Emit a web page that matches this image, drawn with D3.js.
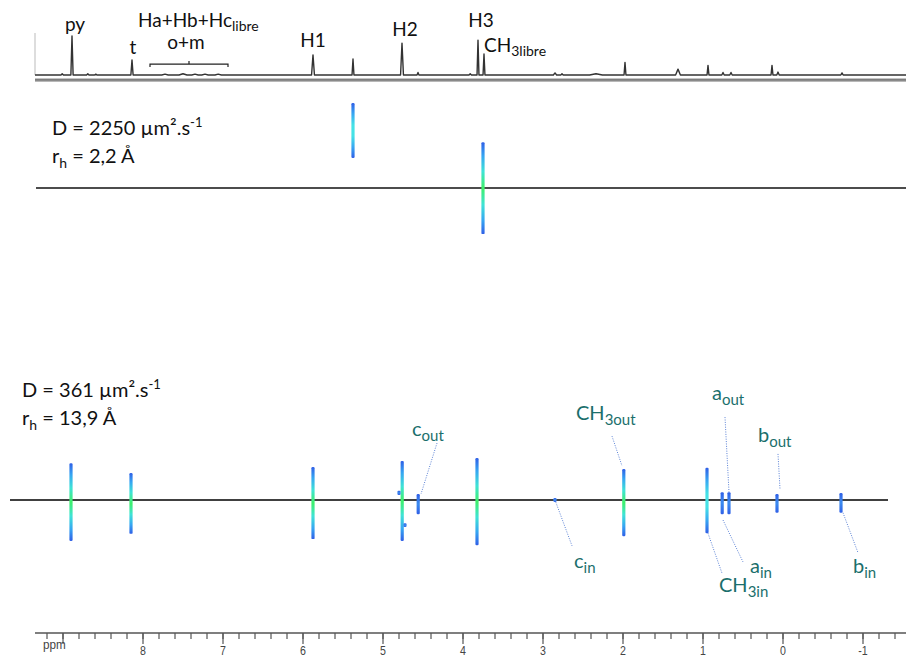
<!DOCTYPE html>
<html>
<head>
<meta charset="utf-8">
<script src="https://cdn.jsdelivr.net/npm/d3@7"></script>
<style>
  html, body { margin: 0; padding: 0; background: #fff; }
  svg { display: block; }
  .lbl { font-family: Lato, "Open Sans", sans-serif; }
  .axis text { font-family: "Liberation Sans", Arial, sans-serif; }
</style>
</head>
<body>
<svg id="chart" width="906" height="659"></svg>
<script>
// ---------------- DATA ----------------
// 1D projection spectrum: [ppm, relative height, half width (ppm)]
const spectrumPeaks = [
  [9.01, 3, 0.015], [8.8875, 93, 0.014], [8.69, 3, 0.015], [8.59, 2, 0.015],
  [8.1375, 36, 0.014],
  [7.725, 2, 0.04], [7.5, 3, 0.05], [7.35, 2, 0.04], [7.225, 2, 0.04], [7.06, 2, 0.04],
  [5.875, 48, 0.018], [5.375, 38, 0.012],
  [4.7625, 76, 0.018], [4.5625, 6, 0.012],
  [3.91, 3, 0.015], [3.8125, 83, 0.012], [3.7375, 50, 0.012],
  [2.85, 5, 0.02], [2.7625, 3, 0.015], [2.3375, 3, 0.08],
  [1.975, 30, 0.012], [1.3125, 14, 0.03], [0.9375, 23, 0.012],
  [0.75, 6, 0.015], [0.65, 6, 0.015],
  [0.1375, 23, 0.012], [0.0625, 7, 0.015], [-0.7375, 5, 0.015]
];

// DOSY cross peaks: [ppm, D low, D high, intensity class]
const dosyPeaks = [
  [5.375, 2682, 3703, "mid"],
  [3.75, 1717, 2944, "strong"],
  [8.9, 284, 448, "strong"],
  [8.15, 296, 423, "strong"],
  [5.875, 287, 438, "strong"],
  [4.76, 284, 454, "strong"],
  [4.8, 372, 381, "weak"],
  [4.725, 308, 315, "weak"],
  [4.56, 332, 374, "weak"],
  [3.825, 277, 462, "strong"],
  [2.85, 357, 365, "weak"],
  [1.99, 292, 433, "strong"],
  [0.95, 297, 436, "mid"],
  [0.76, 332, 378, "weak"],
  [0.675, 332, 378, "weak"],
  [0.075, 335, 374, "weak"],
  [-0.725, 335, 376, "weak"]
];

// diffusion coefficients (µm².s-1) of the two species
const diffusionValues = [2250, 361];
const hydroRadii = ["2,2", "13,9"];

// annotations: [main, subscript, label ppm, label D, leader from ppm, from D, to ppm, to D]
const annotations = [
  ["c", "out", 4.6375, 525, 4.325, 504, 4.525, 374],
  ["CH", "3out", 2.5875, 577, 2.1375, 525, 2.0125, 441],
  ["a", "out", 0.8875, 649, 0.725, 587, 0.675, 378],
  ["b", "out", 0.3125, 507, 0.0625, 473, 0.0375, 385],
  ["c", "in", 2.6125, 242, 2.85, 361, 2.6375, 276],
  ["CH", "3in", 0.8, 210, 0.9375, 297, 0.7625, 235],
  ["a", "in", 0.4125, 235, 0.75, 321, 0.5, 251],
  ["b", "in", -0.875, 235, -0.75, 335, -0.9375, 265]
];

// labels of the 1D spectrum: [main, subscript, ppm, height, anchor]
const spectrumLabels = [
  ["py", "", 8.85, 105, "middle"],
  ["t", "", 8.125, 50, "middle"],
  ["Ha+Hb+Hc", "libre", 8.0625, 114, "start"],
  ["o+m", "", 7.4625, 61, "middle"],
  ["H1", "", 5.875, 67, "middle"],
  ["H2", "", 4.725, 93, "middle"],
  ["H3", "", 3.775, 114, "middle"],
  ["CH", "3libre", 3.7375, 55, "start"]
];
// bracket of the aromatic region (ppm range)
const bracketRange = [7.9125, 6.9375];

const majorTicks = [9, 8, 7, 6, 5, 4, 3, 2, 1, 0, -1];
const minorTicks = d3.range(46, -8, -1).map(v => v / 5);

// ---------------- SCALES ----------------
const svg = d3.select("#chart");
const x = d3.scaleLinear().domain([8, 0]).range([143, 783]);
const yD = d3.scaleLog().domain([361, 2250]).range([500, 188]);
const yS = d3.scaleLinear().domain([0, 100]).range([75, 33]);

// gradients
const defs = svg.append("defs");
const gradStops = {
  strong: [[0, "#2f5fe6"], [0.15, "#36a6f2"], [0.32, "#3fe3d6"], [0.5, "#3ef06a"], [0.68, "#3fe3d6"], [0.85, "#36a6f2"], [1, "#2f5fe6"]],
  mid: [[0, "#2f5fe6"], [0.2, "#38a8f2"], [0.4, "#45e2e6"], [0.6, "#45e2e6"], [0.8, "#38a8f2"], [1, "#2f5fe6"]],
  weak: [[0, "#2f5fe6"], [0.5, "#3c8cf0"], [1, "#2f5fe6"]]
};
Object.entries(gradStops).forEach(([k, stops]) => {
  const g = defs.append("linearGradient").attr("id", "g-" + k)
    .attr("x1", 0).attr("y1", 0).attr("x2", 0).attr("y2", 1);
  stops.forEach(s => g.append("stop").attr("offset", s[0]).attr("stop-color", s[1]));
});

// ---------------- 1D SPECTRUM ----------------
svg.append("line").attr("x1", 35).attr("x2", 35).attr("y1", yS(100)).attr("y2", yS(0))
  .attr("stroke", "#bbb").attr("stroke-width", 1);

const pts = [[x.invert(35), 0]];
spectrumPeaks.slice().sort((a, b) => b[0] - a[0]).forEach(p => {
  pts.push([p[0] + p[2], 0], [p[0], p[1]], [p[0] - p[2], 0]);
});
pts.push([x.invert(906), 0]);
svg.append("path")
  .attr("d", d3.line().x(d => x(d[0])).y(d => yS(d[1]))(pts))
  .attr("fill", "none").attr("stroke", "#333").attr("stroke-width", 1.4)
  .attr("stroke-linejoin", "round");

// double frame line under the spectrum
[-10, -14].forEach(v => {
  svg.append("line").attr("x1", 35).attr("x2", 906).attr("y1", yS(v)).attr("y2", yS(v))
    .attr("stroke", "#444").attr("stroke-width", 1);
});

spectrumLabels.forEach(l => {
  const t = svg.append("text").attr("class", "lbl")
    .attr("x", x(l[2])).attr("y", yS(l[3]))
    .attr("text-anchor", l[4]).attr("font-size", 19).attr("fill", "#111").text(l[0]);
  if (l[1]) t.append("tspan").attr("font-size", 14).attr("dy", 4).text(l[1]);
});

// bracket
const by = yS(26);
svg.append("path")
  .attr("d", `M${x(bracketRange[0])},${by + 3}V${by}H${x(bracketRange[1])}V${by + 3}` +
    `M${x((bracketRange[0] + bracketRange[1]) / 2)},${by}V${by - 3}`)
  .attr("fill", "none").attr("stroke", "#222").attr("stroke-width", 1.2);

// ---------------- DOSY ----------------
// diffusion lines
svg.append("line").attr("x1", 36).attr("x2", 906)
  .attr("y1", yD(diffusionValues[0])).attr("y2", yD(diffusionValues[0]))
  .attr("stroke", "#111").attr("stroke-width", 1.3);
svg.append("line").attr("x1", 10).attr("x2", 888)
  .attr("y1", yD(diffusionValues[1])).attr("y2", yD(diffusionValues[1]))
  .attr("stroke", "#000").attr("stroke-width", 1.3);

// D / rh labels
const dText = [[52, yD(diffusionValues[0]) - 53], [22, yD(diffusionValues[1]) - 103]];
diffusionValues.forEach((D, i) => {
  const [tx, ty] = dText[i];
  const t1 = svg.append("text").attr("class", "lbl").attr("x", tx).attr("y", ty)
    .attr("font-size", 20).attr("fill", "#111").text(`D = ${D} µm².s`);
  t1.append("tspan").attr("font-size", 13).attr("dy", -8).text("-1");
  const t2 = svg.append("text").attr("class", "lbl").attr("x", tx).attr("y", ty + 28)
    .attr("font-size", 20).attr("fill", "#111").text("r");
  t2.append("tspan").attr("font-size", 14).attr("dy", 5).text("h");
  t2.append("tspan").attr("dy", -5).text(` = ${hydroRadii[i]} Å`);
});

// leader lines
svg.append("g").selectAll("line").data(annotations).join("line")
  .attr("x1", d => x(d[4])).attr("y1", d => yD(d[5]))
  .attr("x2", d => x(d[6])).attr("y2", d => yD(d[7]))
  .attr("stroke", "#5b82d6").attr("stroke-width", 1).attr("stroke-dasharray", "1,1.4");

// cross peaks
svg.append("g").selectAll("rect").data(dosyPeaks).join("rect")
  .attr("x", d => x(d[0]) - 1.6).attr("width", 3.2)
  .attr("y", d => yD(d[2])).attr("height", d => Math.max(3, yD(d[1]) - yD(d[2])))
  .attr("rx", 1.2)
  .attr("fill", d => `url(#g-${d[3]})`);

// annotation labels
annotations.forEach(a => {
  const t = svg.append("text").attr("class", "lbl")
    .attr("x", x(a[2])).attr("y", yD(a[3]))
    .attr("font-size", 20).attr("fill", "#1b6f6c").text(a[0]);
  t.append("tspan").attr("font-size", 15).attr("dy", 5).text(a[1]);
});

// ---------------- PPM AXIS ----------------
const axisY = 633;
const ax = svg.append("g").attr("class", "axis");
ax.append("line").attr("x1", 35).attr("x2", 906).attr("y1", axisY).attr("y2", axisY)
  .attr("stroke", "#555").attr("stroke-width", 1.6);
ax.selectAll("line.minor").data(minorTicks).join("line").attr("class", "minor")
  .attr("x1", d => x(d)).attr("x2", d => x(d)).attr("y1", axisY).attr("y2", axisY + 6)
  .attr("stroke", "#555").attr("stroke-width", 1.2);
ax.selectAll("line.major").data(majorTicks).join("line").attr("class", "major")
  .attr("x1", d => x(d)).attr("x2", d => x(d)).attr("y1", axisY).attr("y2", axisY + 11)
  .attr("stroke", "#555").attr("stroke-width", 1.2);
ax.selectAll("text.tick").data(majorTicks.filter(d => d !== 9)).join("text").attr("class", "tick")
  .attr("x", d => x(d)).attr("y", axisY + 22).attr("text-anchor", "middle")
  .attr("font-size", 12.5).attr("fill", "#444")
  .attr("transform", d => `translate(${x(d)},0) scale(0.85,1) translate(${-x(d)},0)`)
  .text(d => d);
ax.append("text").attr("x", 43).attr("y", axisY + 16).attr("font-size", 13)
  .attr("fill", "#444").attr("transform", "translate(43,0) scale(0.9,1) translate(-43,0)").text("ppm");
</script>
</body>
</html>
